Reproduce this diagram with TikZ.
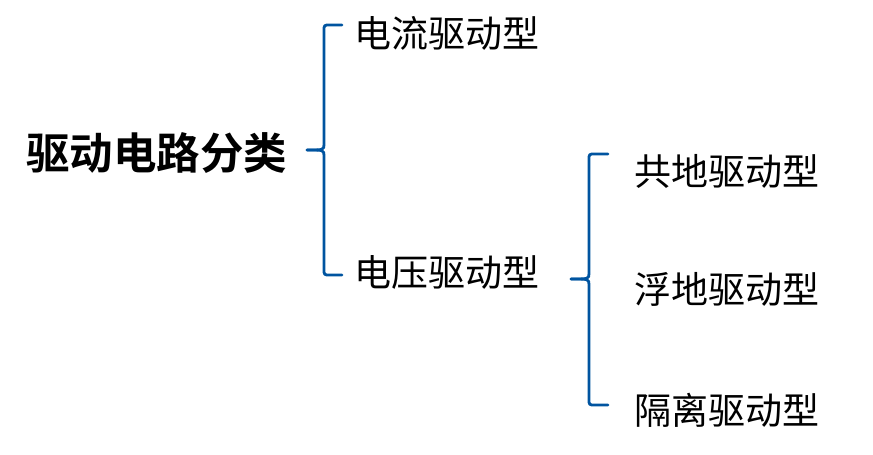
\documentclass[tikz,border=0pt]{standalone}
\usepackage{fontspec}
\newfontfamily\cjk{Noto Sans CJK SC}[BoldFont={Noto Sans CJK SC Bold}]
\definecolor{braceblue}{RGB}{0,84,160}

\tikzset{
  title/.style ={anchor=west, inner sep=0pt, font=\cjk\bfseries\fontsize{43.5pt}{45pt}\selectfont},
  item/.style  ={anchor=west, inner sep=0pt, font=\cjk\fontsize{37pt}{39pt}\selectfont},
  brace/.style ={draw=braceblue, line width=2.8pt, line cap=round, line join=round},
}

\begin{document}
\begin{tikzpicture}[x=1pt, y=-1pt]
  \useasboundingbox (0,0) rectangle (873,455);
  \node[title] (root) at (26, 153) {驱动电路分类};
  \node[item] (cur) at (354, 33) {电流驱动型};
  \node[item] (vol) at (354, 272) {电压驱动型};
  \node[item] (gnd) at (634, 171) {共地驱动型};
  \node[item] (flt) at (634, 289) {浮地驱动型};
  \node[item] (iso) at (634, 410) {隔离驱动型};
  % first brace
  \coordinate (b1t) at (342, 25);
  \coordinate (b1b) at (342, 275);
  \coordinate (b1m) at (307, 150);
  \draw[brace] (b1t) -- (330, 25) .. controls (324, 25) .. (324, 31)
    -- (324, 144) .. controls (324, 150) .. (b1m);
  \draw[brace] (b1b) -- (330, 275) .. controls (324, 275) .. (324, 269)
    -- (324, 156) .. controls (324, 150) .. (b1m);
  % second brace
  \coordinate (b2t) at (608, 154);
  \coordinate (b2b) at (608, 405);
  \coordinate (b2m) at (571, 279);
  \draw[brace] (b2t) -- (595, 154) .. controls (589, 154) .. (589, 160)
    -- (589, 273) .. controls (589, 279) .. (b2m);
  \draw[brace] (b2b) -- (595, 405) .. controls (589, 405) .. (589, 399)
    -- (589, 285) .. controls (589, 279) .. (b2m);
\end{tikzpicture}
\end{document}
